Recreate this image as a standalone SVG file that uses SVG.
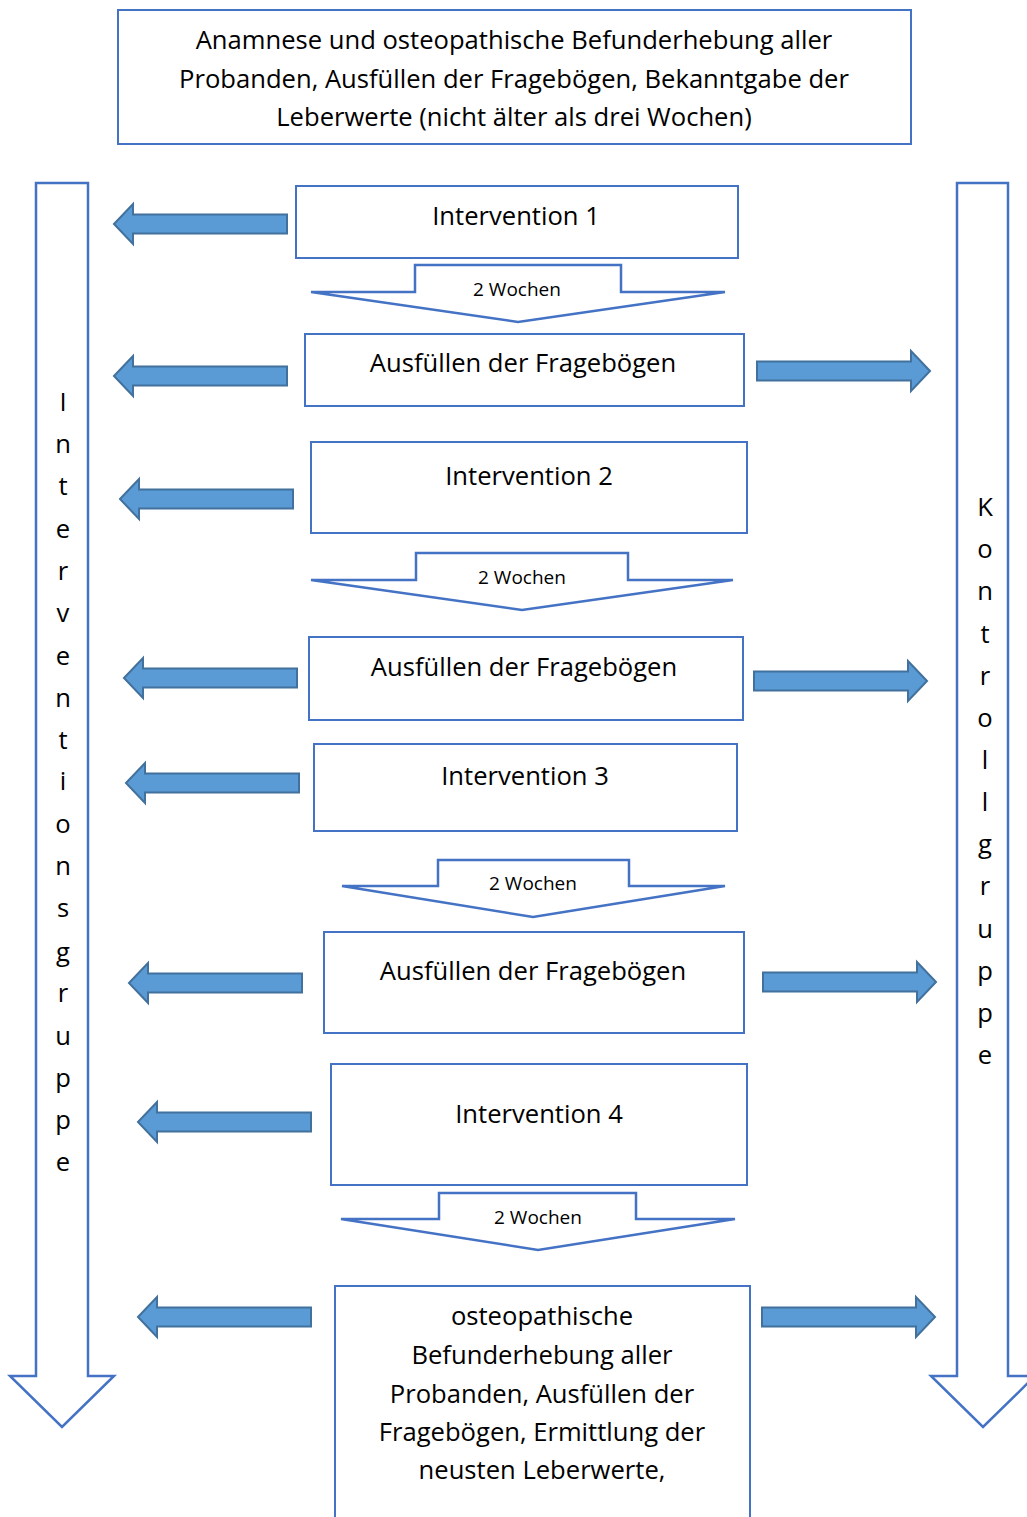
<svg xmlns="http://www.w3.org/2000/svg" xmlns:xlink="http://www.w3.org/1999/xlink" width="1027" height="1517" viewBox="0 0 1027 1517">
<style>
.box{fill:#fff;stroke:#4472C4;stroke-width:2}
.dn{fill:#fff;stroke:#4472C4;stroke-width:2.5;stroke-linejoin:miter}
.blk{fill:#5B9BD5;stroke:#41719C;stroke-width:2}
.t{font-family:"Open Sans","Noto Sans",sans-serif;font-size:25.6px;fill:#000;text-anchor:middle}
.s{font-family:"Open Sans","Noto Sans",sans-serif;font-size:19px;fill:#000;text-anchor:middle}
</style>
<defs>
<path id="la" d="M0,0 L19,-20 L19,-9.5 L173,-9.5 L173,9.5 L19,9.5 L19,20 Z"/>
<path id="ra" d="M0,0 L-19,-20 L-19,-9.5 L-173,-9.5 L-173,9.5 L-19,9.5 L-19,20 Z"/>
</defs>
<rect width="1027" height="1517" fill="#fff"/>

<g id="connectors">
<path class="dn" d="M36,183 L88,183 L88,1376 L114,1376 L62,1427 L10,1376 L36,1376 Z"/>
<path class="dn" d="M957,183 L1008,183 L1008,1376 L1035,1376 L983,1427 L931,1376 L957,1376 Z"/>
<path class="dn" d="M311,292 L415,292 L415,265 L621,265 L621,292 L725,292 L518,322 Z"/>
<path class="dn" d="M311,580 L416,580 L416,553 L628,553 L628,580 L733,580 L522,610 Z"/>
<path class="dn" d="M342,886 L438,886 L438,860 L629,860 L629,886 L725,886 L533,917 Z"/>
<path class="dn" d="M341,1219 L439,1219 L439,1193 L636,1193 L636,1219 L735,1219 L538,1250 Z"/>
<g class="blk">
<use xlink:href="#la" href="#la" x="114" y="224"/>
<use xlink:href="#la" href="#la" x="114" y="376"/>
<use xlink:href="#la" href="#la" x="120" y="499"/>
<use xlink:href="#la" href="#la" x="124" y="678"/>
<use xlink:href="#la" href="#la" x="126" y="783"/>
<use xlink:href="#la" href="#la" x="129" y="983"/>
<use xlink:href="#la" href="#la" x="138" y="1122"/>
<use xlink:href="#la" href="#la" x="138" y="1317"/>
<use xlink:href="#ra" href="#ra" x="930" y="371"/>
<use xlink:href="#ra" href="#ra" x="927" y="681"/>
<use xlink:href="#ra" href="#ra" x="936" y="982"/>
<use xlink:href="#ra" href="#ra" x="935" y="1317"/>
</g>
<text class="s" x="517" y="296">2 Wochen</text>
<text class="s" x="522" y="584">2 Wochen</text>
<text class="s" x="533" y="890">2 Wochen</text>
<text class="s" x="538" y="1224">2 Wochen</text>
</g>

<g id="start">
<rect class="box" x="118" y="10" width="793" height="134"/>
<text class="t" x="514" y="49">Anamnese und osteopathische Befunderhebung aller</text>
<text class="t" x="514" y="88">Probanden, Ausfüllen der Fragebögen, Bekanntgabe der</text>
<text class="t" x="514" y="126">Leberwerte (nicht älter als drei Wochen)</text>
</g>
<g id="intervention1">
<rect class="box" x="296" y="186" width="442" height="72"/>
<text class="t" x="516" y="225">Intervention 1</text>
</g>
<g id="fragebogen1">
<rect class="box" x="305" y="334" width="439" height="72"/>
<text class="t" x="523" y="372">Ausfüllen der Fragebögen</text>
</g>
<g id="intervention2">
<rect class="box" x="311" y="442" width="436" height="91"/>
<text class="t" x="529" y="485">Intervention 2</text>
</g>
<g id="fragebogen2">
<rect class="box" x="309" y="637" width="434" height="83"/>
<text class="t" x="524" y="676">Ausfüllen der Fragebögen</text>
</g>
<g id="intervention3">
<rect class="box" x="314" y="744" width="423" height="87"/>
<text class="t" x="525" y="785">Intervention 3</text>
</g>
<g id="fragebogen3">
<rect class="box" x="324" y="932" width="420" height="101"/>
<text class="t" x="533" y="980">Ausfüllen der Fragebögen</text>
</g>
<g id="intervention4">
<rect class="box" x="331" y="1064" width="416" height="121"/>
<text class="t" x="539" y="1123">Intervention 4</text>
</g>
<g id="ende">
<rect class="box" x="335" y="1286" width="415" height="250"/>
<text class="t" x="542" y="1325">osteopathische</text>
<text class="t" x="542" y="1364">Befunderhebung aller</text>
<text class="t" x="542" y="1403">Probanden, Ausfüllen der</text>
<text class="t" x="542" y="1441">Fragebögen, Ermittlung der</text>
<text class="t" x="542" y="1479">neusten Leberwerte,</text>
</g>
<g id="interventionsgruppe">
<text class="t" x="63" y="411">I</text>
<text class="t" x="63" y="453">n</text>
<text class="t" x="63" y="495">t</text>
<text class="t" x="63" y="538">e</text>
<text class="t" x="63" y="580">r</text>
<text class="t" x="63" y="622">v</text>
<text class="t" x="63" y="665">e</text>
<text class="t" x="63" y="707">n</text>
<text class="t" x="63" y="749">t</text>
<text class="t" x="63" y="790">i</text>
<text class="t" x="63" y="833">o</text>
<text class="t" x="63" y="875">n</text>
<text class="t" x="63" y="917">s</text>
<text class="t" x="63" y="961">g</text>
<text class="t" x="63" y="1002">r</text>
<text class="t" x="63" y="1045">u</text>
<text class="t" x="63" y="1087">p</text>
<text class="t" x="63" y="1129">p</text>
<text class="t" x="63" y="1171">e</text>
</g>
<g id="kontrollgruppe">
<text class="t" x="985" y="516">K</text>
<text class="t" x="985" y="558">o</text>
<text class="t" x="985" y="600">n</text>
<text class="t" x="985" y="643">t</text>
<text class="t" x="985" y="685">r</text>
<text class="t" x="985" y="727">o</text>
<text class="t" x="985" y="769">l</text>
<text class="t" x="985" y="811">l</text>
<text class="t" x="985" y="853">g</text>
<text class="t" x="985" y="895">r</text>
<text class="t" x="985" y="938">u</text>
<text class="t" x="985" y="980">p</text>
<text class="t" x="985" y="1022">p</text>
<text class="t" x="985" y="1064">e</text>
</g>
</svg>
